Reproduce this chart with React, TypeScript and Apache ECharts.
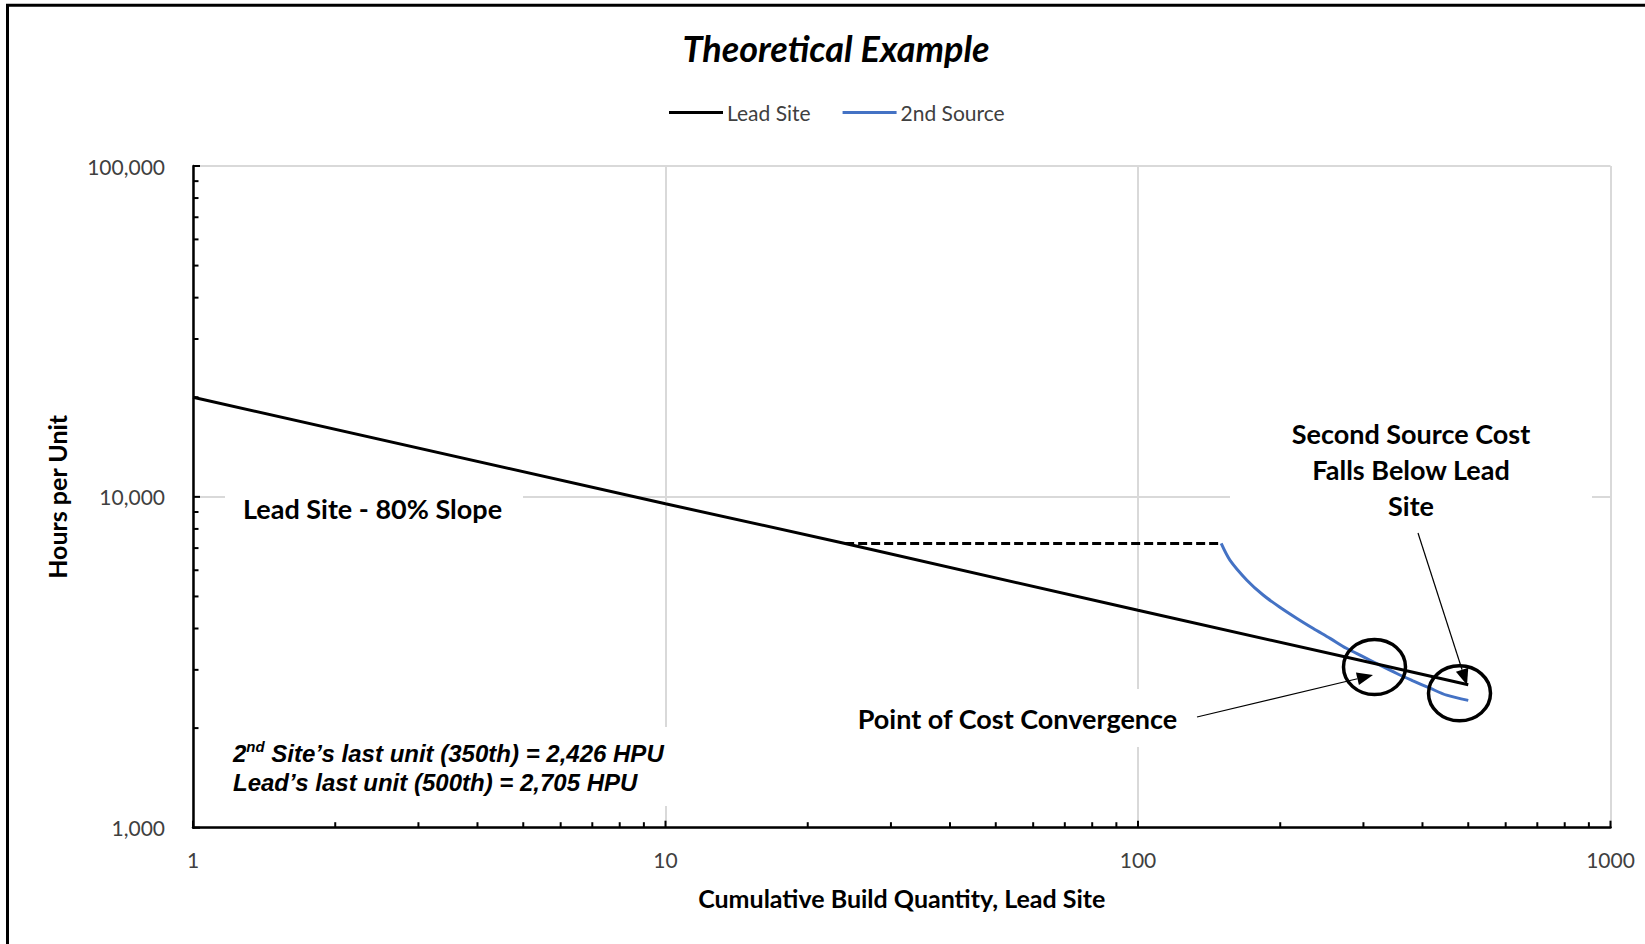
import React, { useEffect, useRef } from "react";
import * as echarts from "echarts";

// ---- data ----
const leadX = [1, 10, 24, 100, 300, 500];
const leadY = [20000, 9530, 7230, 4540, 3190, 2705];

const secondX = [150, 156.5, 170, 184, 200, 217, 235, 255, 276, 300, 325, 353, 382, 415, 450, 500];
const secondY = [7230, 6440, 5600, 5050, 4630, 4290, 4000, 3735, 3485, 3285, 3100, 2925, 2780, 2640, 2515, 2426];

const dashedX = [24, 150];
const dashedY = [7230, 7230];

const xMajorTicks = [1, 10, 100, 1000];
const xMinorTicks = [2, 3, 4, 5, 6, 7, 8, 9, 20, 30, 40, 50, 60, 70, 80, 90, 200, 300, 400, 500, 600, 700, 800, 900];
const yMajorTicks = [1000, 10000, 100000];
const yMinorTicks = [2000, 3000, 4000, 5000, 6000, 7000, 8000, 9000, 20000, 30000, 40000, 50000, 60000, 70000, 80000, 90000];

const TITLE = "Theoretical Example";
const SERIES_NAMES = ["Lead Site", "2nd Source"];
const X_NAME = "Cumulative Build Quantity, Lead Site";
const Y_NAME = "Hours per Unit";

const FONT = "Lato, 'Open Sans', sans-serif";
const ARIAL = "'Liberation Sans', Arial, sans-serif";

function arrow(x1: number, y1: number, x2: number, y2: number, headLen = 16, headW = 13) {
  const dx = x2 - x1;
  const dy = y2 - y1;
  const L = Math.sqrt(dx * dx + dy * dy);
  const ux = dx / L;
  const uy = dy / L;
  const bx = x2 - ux * headLen;
  const by = y2 - uy * headLen;
  const px = -uy * (headW / 2);
  const py = ux * (headW / 2);
  return [
    { type: "line", z: 60, shape: { x1, y1, x2: bx, y2: by }, style: { stroke: "#000", lineWidth: 1.2 } },
    {
      type: "polygon",
      z: 60,
      shape: { points: [[x2, y2], [bx + px, by + py], [bx - px, by - py]] },
      style: { fill: "#000" },
    },
  ];
}

export default function App() {
  const ref = useRef<HTMLDivElement>(null);

  useEffect(() => {
    if (!ref.current) return;
    const chart = echarts.init(ref.current, undefined, { renderer: "svg" });

    const lead = leadX.map((x, i) => [x, leadY[i]]);
    const second = secondX.map((x, i) => [x, secondY[i]]);
    const dashed = dashedX.map((x, i) => [x, dashedY[i]]);
    const ticks: number[][] = [];
    xMajorTicks.forEach((v) => ticks.push([v, 1000, 0, 1]));
    xMinorTicks.forEach((v) => ticks.push([v, 1000, 0, 0]));
    yMajorTicks.forEach((v) => ticks.push([1, v, 1, 1]));
    yMinorTicks.forEach((v) => ticks.push([1, v, 1, 0]));

    const boldText = (text: string, x: number, y: number, extra: any = {}) => ({
      type: "text",
      z: 55,
      x,
      y,
      style: {
        text,
        align: "center",
        verticalAlign: "middle",
        fontFamily: FONT,
        fontWeight: "bold",
        fontSize: 27,
        fill: "#000",
        ...extra,
      },
    });

    const graphic: any[] = [
      // outer frame (left and top edges visible)
      { type: "line", z: 60, shape: { x1: 7.5, y1: 4, x2: 7.5, y2: 944 }, style: { stroke: "#000", lineWidth: 3 } },
      { type: "line", z: 60, shape: { x1: 6, y1: 5.3, x2: 1645, y2: 5.3 }, style: { stroke: "#000", lineWidth: 3 } },

      // Lead Site - 80% Slope
      { type: "rect", z: 50, shape: { x: 225, y: 480, width: 298, height: 56 }, style: { fill: "#fff" } },
      boldText("Lead Site - 80% Slope", 372.5, 508),

      // Second Source Cost Falls Below Lead Site
      { type: "rect", z: 50, shape: { x: 1230, y: 405, width: 362, height: 120 }, style: { fill: "#fff" } },
      boldText("Second Source Cost\nFalls Below Lead\nSite", 1411, 469, { lineHeight: 36 }),

      // Point of Cost Convergence
      { type: "rect", z: 50, shape: { x: 845, y: 689, width: 345, height: 58 }, style: { fill: "#fff" } },
      boldText("Point of Cost Convergence", 1017.5, 718),

      // last unit note
      { type: "rect", z: 50, shape: { x: 215, y: 727, width: 470, height: 79 }, style: { fill: "#fff" } },
      {
        type: "text",
        z: 55,
        x: 233,
        y: 738.5,
        style: {
          text: "{a|2}{s|nd}{a| Site\u2019s last unit (350th) = 2,426 HPU}\n{a|Lead\u2019s last unit (500th) = 2,705 HPU}",
          align: "left",
          verticalAlign: "top",
          fill: "#000",
          rich: {
            a: { fontFamily: ARIAL, fontWeight: "bold", fontStyle: "italic", fontSize: 24, lineHeight: 29, fill: "#000" },
            s: { fontFamily: ARIAL, fontWeight: "bold", fontStyle: "italic", fontSize: 15, lineHeight: 20, verticalAlign: "top", fill: "#000" },
          },
        },
      },

      // circles
      { type: "ellipse", z: 60, shape: { cx: 1374.5, cy: 667, rx: 31, ry: 27.5 }, style: { fill: "none", stroke: "#000", lineWidth: 3.5 } },
      { type: "ellipse", z: 60, shape: { cx: 1459.5, cy: 693.3, rx: 31, ry: 27.5 }, style: { fill: "none", stroke: "#000", lineWidth: 3.5 } },

      ...arrow(1197, 717, 1373, 675),
      ...arrow(1418, 533, 1467, 685),
    ];

    chart.setOption({
      animation: false,
      backgroundColor: "#fff",
      title: {
        text: TITLE,
        left: 831,
        top: 25,
        textAlign: "center",
        textStyle: { fontFamily: FONT, fontWeight: "bold", fontStyle: "italic", fontSize: 36, color: "#000" },
      },
      legend: {
        data: SERIES_NAMES,
        left: 664,
        top: 97,
        icon: "rect",
        itemWidth: 54,
        itemHeight: 3,
        itemGap: 32,
        textStyle: { fontFamily: FONT, fontSize: 21, color: "#404040", padding: [0, 0, 0, -1] },
      },
      grid: { left: 193, top: 166, right: 34.5, bottom: 116.3, containLabel: false },
      xAxis: {
        type: "log",
        logBase: 10,
        min: 1,
        max: 1000,
        name: X_NAME,
        nameLocation: "middle",
        nameGap: 58,
        nameTextStyle: { fontFamily: FONT, fontWeight: "bold", fontSize: 25, color: "#000" },
        axisLine: { show: true, lineStyle: { color: "#000", width: 2.5 } },
        axisTick: { show: false },
        splitLine: { show: true, lineStyle: { color: "#d9d9d9", width: 2 } },
        axisLabel: {
          fontFamily: FONT,
          fontSize: 21,
          color: "#404040",
          margin: 21,
          formatter: (v: number) => String(Math.round(v)),
        },
      },
      yAxis: {
        type: "log",
        logBase: 10,
        min: 1000,
        max: 100000,
        name: Y_NAME,
        nameLocation: "middle",
        nameRotate: 90,
        nameGap: 124,
        nameTextStyle: { fontFamily: FONT, fontWeight: "bold", fontSize: 25, color: "#000" },
        axisLine: { show: true, lineStyle: { color: "#000", width: 2.5 } },
        axisTick: { show: false },
        splitLine: { show: true, lineStyle: { color: "#d9d9d9", width: 2 } },
        axisLabel: {
          fontFamily: FONT,
          fontSize: 21,
          color: "#404040",
          margin: 28,
          formatter: (v: number) => Math.round(v).toLocaleString("en-US"),
        },
      },
      series: [
        {
          name: SERIES_NAMES[0],
          type: "line",
          data: lead,
          showSymbol: false,
          symbol: "none",
          lineStyle: { color: "#000", width: 3 },
          itemStyle: { color: "#000" },
          z: 3,
        },
        {
          name: SERIES_NAMES[1],
          type: "line",
          data: second,
          showSymbol: false,
          symbol: "none",
          smooth: 0.3,
          lineStyle: { color: "#4472C4", width: 3 },
          itemStyle: { color: "#4472C4" },
          z: 2,
        },
        {
          name: "dashed",
          type: "line",
          data: dashed,
          showSymbol: false,
          symbol: "none",
          lineStyle: { color: "#000", width: 3, type: [9, 4] },
          itemStyle: { color: "#000" },
          z: 2,
        },
        {
          name: "ticks",
          type: "custom",
          data: ticks,
          clip: false,
          silent: true,
          z: 4,
          encode: { x: 0, y: 1 },
          renderItem: (params: any, api: any) => {
            const kind = api.value(2);
            const major = api.value(3);
            const p = api.coord([api.value(0), api.value(1)]);
            const len = major ? 7 : 5.5;
            const shape =
              kind === 0
                ? { x1: p[0], y1: p[1], x2: p[0], y2: p[1] - len }
                : { x1: p[0], y1: p[1], x2: p[0] + len, y2: p[1] };
            return { type: "line", shape, style: { stroke: "#000", lineWidth: 2 } };
          },
        },
      ],
      graphic,
    });

    return () => chart.dispose();
  }, []);

  return (
    <div
      ref={ref}
      style={{ position: "fixed", left: 0, top: 0, width: 1645, height: 944, background: "#fff" }}
    />
  );
}
